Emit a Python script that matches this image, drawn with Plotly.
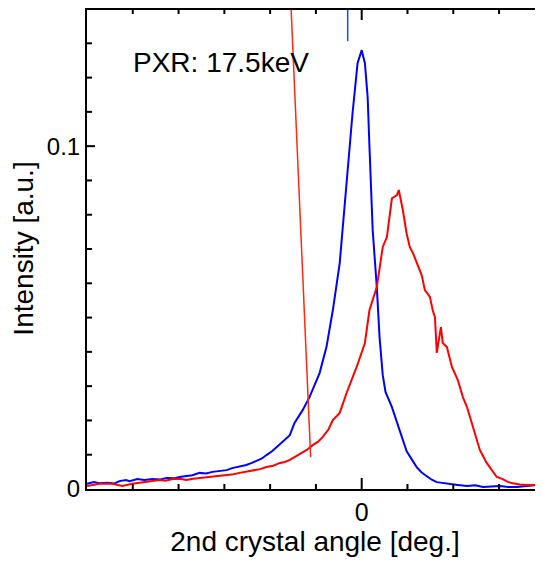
import plotly.graph_objects as go

# ---- data (x in deg, y in a.u.) ----
blue_x = [-0.600, -0.585, -0.573, -0.555, -0.540, -0.529, -0.515, -0.507, -0.490, -0.475,
          -0.457, -0.440, -0.426, -0.410, -0.398, -0.383, -0.370, -0.354, -0.340,
          -0.326, -0.310, -0.295, -0.283, -0.273, -0.262, -0.252, -0.240, -0.230, -0.218,
          -0.208, -0.196, -0.186, -0.173, -0.165, -0.157, -0.147,
          -0.129, -0.114, -0.092, -0.077, -0.063, -0.048, -0.042, -0.026, -0.020, -0.009,
          0.000, 0.007, 0.013, 0.017, 0.024, 0.033, 0.039, 0.046, 0.052, 0.066,
          0.083, 0.098, 0.110, 0.120, 0.131, 0.142, 0.153, 0.164, 0.178, 0.192, 0.210,
          0.230, 0.248, 0.265, 0.285, 0.302, 0.320, 0.339, 0.360, 0.389]
blue_y = [0.0015, 0.0020, 0.0017, 0.0018, 0.0016, 0.0023, 0.0026, 0.0023, 0.0029, 0.0026,
          0.0029, 0.0028, 0.0032, 0.0031, 0.0035, 0.0038, 0.0040, 0.0047, 0.0045,
          0.0050, 0.0053, 0.0055, 0.0061, 0.0064, 0.0066, 0.0070, 0.0076, 0.0082, 0.0089,
          0.0099, 0.0110, 0.0122, 0.0137, 0.0145, 0.0157, 0.0192,
          0.0230, 0.0268, 0.0338, 0.0414, 0.0522, 0.0659, 0.0755, 0.0997, 0.1096, 0.1242,
          0.1280, 0.1242, 0.1143, 0.0997, 0.0755, 0.0589, 0.0443, 0.0332, 0.0283, 0.0239,
          0.0169, 0.0111, 0.0085, 0.0064, 0.0048, 0.0038, 0.0027, 0.0020, 0.0017, 0.0015, 0.0012,
          0.0009, 0.0011, 0.0006, 0.0008, 0.0009, 0.0006, 0.0006, 0.0009, 0.0012]

red_x = [-0.600, -0.573, -0.545, -0.523, -0.501, -0.485, -0.470, -0.455, -0.442, -0.428,
         -0.413, -0.398, -0.383, -0.368, -0.354, -0.340,
         -0.326, -0.310, -0.295, -0.280, -0.267, -0.252, -0.238, -0.222, -0.208, -0.193,
         -0.179, -0.168, -0.157, -0.146, -0.136, -0.120, -0.107, -0.095, -0.085, -0.072,
         -0.063, -0.048, -0.033, -0.011, 0.007, 0.017, 0.033, 0.046, 0.055, 0.066,
         0.077, 0.081, 0.090, 0.098, 0.105, 0.112, 0.131, 0.138, 0.149, 0.155,
         0.160, 0.164, 0.173, 0.177, 0.186, 0.197, 0.210, 0.221, 0.230, 0.243,
         0.258, 0.273, 0.285, 0.295, 0.308, 0.320, 0.330, 0.345, 0.361, 0.375, 0.389]
red_y = [0.0009, 0.0015, 0.0015, 0.0009, 0.0015, 0.0018, 0.0020, 0.0024, 0.0026, 0.0024,
         0.0029, 0.0030, 0.0026, 0.0030, 0.0032, 0.0033,
         0.0035, 0.0038, 0.0041, 0.0043, 0.0047, 0.0051, 0.0055, 0.0058, 0.0064, 0.0068,
         0.0076, 0.0079, 0.0085, 0.0093, 0.0102, 0.0114, 0.0128, 0.0138, 0.0152, 0.0175,
         0.0201, 0.0222, 0.0280, 0.0356, 0.0426, 0.0522, 0.0589, 0.0706, 0.0735, 0.0848,
         0.0857, 0.0872, 0.0813, 0.0746, 0.0706, 0.0688, 0.0624, 0.0580, 0.0560, 0.0522,
         0.0501, 0.0397, 0.0472, 0.0426, 0.0414, 0.0356, 0.0318, 0.0268, 0.0239, 0.0181,
         0.0114, 0.0076, 0.0052, 0.0035, 0.0029, 0.0020, 0.0017, 0.0013, 0.0012, 0.0011, 0.0012]

# marker lines
red_line_x = [-0.155, -0.1115]
red_line_y = [0.1426, 0.0093]
blue_line_x = [-0.0306, -0.0306]
blue_line_y = [0.1426, 0.1306]

x_range = [-0.6, 0.396]
y_range = [0, 0.1403]
y_frame_top = 0.1400
x_major_ticks = [0.0]
x_minor_ticks = [-0.5, -0.4, -0.3, -0.2, -0.1, 0.1, 0.2, 0.3]
y_major_ticks = [0.1]
y_minor_ticks = [0.01, 0.02, 0.03, 0.04, 0.05, 0.06, 0.07, 0.08, 0.09,
                 0.11, 0.12, 0.13]
label_text = "PXR: 17.5keV"

FONT = "Liberation Sans, Arial, Helvetica, sans-serif"

W, H = 535, 553
ML, MR, MT, MB = 79, 0, 0, 72
plot_w = W - ML - MR
plot_h = H - MT - MB
# one pixel expressed in axis units (used for tick lengths)
px_x = (x_range[1] - x_range[0]) / plot_w
px_y = (y_range[1] - y_range[0]) / plot_h

fig = go.Figure()
fig.add_trace(go.Scatter(x=blue_x, y=blue_y, mode="lines",
                         line=dict(color="#0000ff", width=2), showlegend=False))
fig.add_trace(go.Scatter(x=red_x, y=red_y, mode="lines",
                         line=dict(color="#ff0000", width=2), showlegend=False))
fig.add_trace(go.Scatter(x=red_line_x, y=red_line_y, mode="lines",
                         line=dict(color="#ff2a10", width=1.5), showlegend=False))
fig.add_trace(go.Scatter(x=blue_line_x, y=blue_line_y, mode="lines",
                         line=dict(color="#0a4cff", width=1.5), showlegend=False))

# frame top line and inward ticks, drawn as line traces
tx, ty = [x_range[0], x_range[1], None], [y_frame_top, y_frame_top, None]
for vals, ln in ((x_major_ticks, 11), (x_minor_ticks, 5)):
    for v in vals:
        tx += [v, v, None, v, v, None]
        ty += [y_range[0], y_range[0] + ln * px_y, None,
               y_frame_top, y_frame_top - ln * px_y, None]
for vals, ln in ((y_major_ticks, 8), (y_minor_ticks, 5)):
    for v in vals:
        tx += [x_range[0], x_range[0] + ln * px_x, None,
               x_range[1], x_range[1] - ln * px_x, None]
        ty += [v, v, None, v, v, None]
fig.add_trace(go.Scatter(x=tx, y=ty, mode="lines", connectgaps=False,
                         line=dict(color="black", width=2), hoverinfo="skip",
                         showlegend=False))

fig.add_annotation(x=-0.504, y=0.1245, xref="x", yref="y", text=label_text,
                   showarrow=False, xanchor="left", yanchor="middle",
                   font=dict(family=FONT, size=28, color="black"))

fig.update_layout(
    width=W, height=H,
    margin=dict(l=ML, r=MR, t=MT, b=MB),
    paper_bgcolor="white", plot_bgcolor="white",
    font=dict(family=FONT, color="black"),
    xaxis=dict(
        range=x_range, showgrid=False, zeroline=False,
        showline=True, linecolor="black", linewidth=2, mirror=False,
        ticks="", tickmode="array", tickvals=x_major_ticks, ticktext=["0"],
        tickfont=dict(size=25),
        title=dict(text="2nd crystal angle [deg.]", font=dict(size=28), standoff=4),
    ),
    yaxis=dict(
        range=y_range, showgrid=False, zeroline=False,
        showline=True, linecolor="black", linewidth=2, mirror=False,
        ticks="", tickmode="array", tickvals=[0.0] + y_major_ticks, ticktext=["0", "0.1"],
        tickfont=dict(size=24),
        title=dict(text="Intensity [a.u.]", font=dict(size=28), standoff=6),
    ),
)

fig.write_html("out.html")
